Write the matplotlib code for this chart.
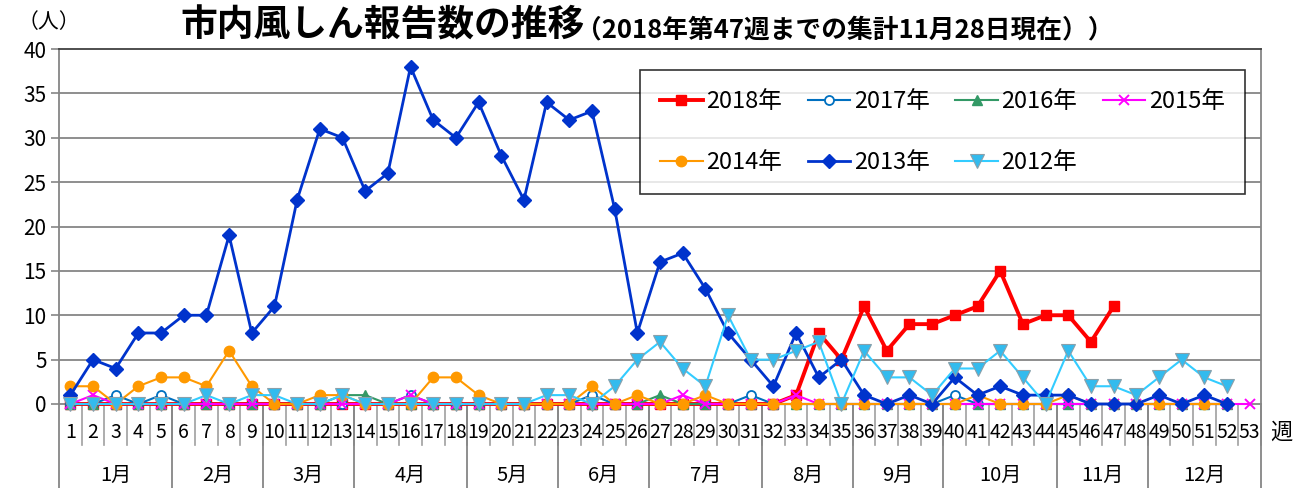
import matplotlib
matplotlib.use("Agg")
import matplotlib.pyplot as plt
import matplotlib.transforms as mtransforms

plt.rcParams['font.family'] = ['Noto Sans CJK JP', 'DejaVu Sans']

# ---------------- data ----------------
weeks = list(range(1, 54))
week_labels = [str(w) for w in weeks]
month_labels = ['1月', '2月', '3月', '4月', '5月', '6月', '7月', '8月', '9月', '10月', '11月', '12月']
month_week_counts = [5, 4, 4, 5, 4, 4, 5, 4, 4, 5, 4, 5]

y2018 = [0, 0, 0, 0, 0, 0, 0, 0, 0, 0, 0, 0, 0, 0, 0, 0, 0, 0, 0, 0,
         0, 0, 0, 0, 0, 0, 0, 0, 0, 0, 0, 0, 1, 8, 5, 11, 6, 9, 9, 10,
         11, 15, 9, 10, 10, 7, 11]
y2017 = [0, 0, 1, 0, 1, 0, 0, 0, 0, 0, 0, 0, 0, 0, 0, 1, 0, 0, 0, 0,
         0, 0, 0, 1, 0, 0, 0, 0, 0, 0, 1, 0, 0, 0, 0, 0, 0, 0, 0, 1,
         0, 0, 0, 0, 0, 0, 0, 0, 0, 0, 0, 0]
y2016 = [0, 0, 0, 0, 0, 0, 0, 0, 0, 0, 0, 0, 1, 1, 0, 0, 0, 0, 0, 0,
         0, 0, 0, 0, 0, 0, 1, 0, 0, 0, 0, 0, 0, 0, 0, 0, 0, 0, 0, 0,
         0, 0, 0, 0, 0, 0, 0, 0, 0, 0, 0, 0]
y2015 = [0, 1, 0, 0, 0, 0, 0, 0, 0, 0, 0, 0, 0, 0, 0, 1, 0, 0, 0, 0,
         0, 0, 0, 0, 0, 0, 0, 1, 0, 0, 0, 0, 1, 0, 0, 0, 0, 0, 0, 0,
         0, 0, 0, 0, 0, 0, 0, 0, 0, 0, 0, 0, 0]
y2014 = [2, 2, 0, 2, 3, 3, 2, 6, 2, 0, 0, 1, 1, 0, 0, 0, 3, 3, 1, 0,
         0, 0, 0, 2, 0, 1, 0, 0, 1, 0, 0, 0, 0, 0, 0, 0, 0, 0, 0, 0,
         1, 0, 0, 0, 1, 0, 0, 0, 0, 0, 0, 0]
y2013 = [1, 5, 4, 8, 8, 10, 10, 19, 8, 11, 23, 31, 30, 24, 26, 38, 32, 30, 34, 28,
         23, 34, 32, 33, 22, 8, 16, 17, 13, 8, 5, 2, 8, 3, 5, 1, 0, 1, 0, 3,
         1, 2, 1, 1, 1, 0, 0, 0, 1, 0, 1, 0]
y2012 = [0, 0, 0, 0, 0, 0, 1, 0, 1, 1, 0, 0, 1, 0, 0, 0, 0, 0, 0, 0,
         0, 1, 1, 0, 2, 5, 7, 4, 2, 10, 5, 5, 6, 7, 0, 6, 3, 3, 1, 4,
         4, 6, 3, 0, 6, 2, 2, 1, 3, 5, 3, 2]

series = [
    ('2018年', y2018, dict(color='#FF0000', lw=2.8, marker='s', ms=7.5, mfc='#FF0000', mec='#FF0000')),
    ('2017年', y2017, dict(color='#0070C0', lw=1.5, marker='o', ms=6.5, mfc='white', mec='#0070C0', mew=1.3)),
    ('2016年', y2016, dict(color='#339966', lw=1.5, marker='^', ms=7.5, mfc='#339966', mec='#339966')),
    ('2015年', y2015, dict(color='#FF00FF', lw=1.5, marker='x', ms=6.5, mec='#FF00FF', mew=1.4)),
    ('2014年', y2014, dict(color='#FF9900', lw=1.5, marker='o', ms=7.5, mfc='#FF9900', mec='#FF9900')),
    ('2013年', y2013, dict(color='#0033CC', lw=2.0, marker='D', ms=7.5, mfc='#0033CC', mec='#0033CC')),
    ('2012年', y2012, dict(color='#33CCFF', lw=1.5, marker='v', ms=10.5, mfc='#33BBEE', mec='#8AA0AA', mew=0.8)),
]

# ---------------- figure ----------------
W, H = 1303, 488
fig = plt.figure(figsize=(W / 100, H / 100), dpi=100)
L, R, T, B = 59, 1261, 49, 404
ax = fig.add_axes([L / W, 1 - B / H, (R - L) / W, (B - T) / H])

handles = {}
for i, (name, ys, st) in enumerate(series):
    xs = weeks[:len(ys)]
    h, = ax.plot(xs, ys, label=name, zorder=3 + i, clip_on=False, **st)
    handles[name] = h

ax.set_xlim(0.5, 53.5)
ax.set_ylim(0, 40)
ax.set_yticks(range(0, 41, 5))
ax.tick_params(axis='y', labelsize=15, length=6, width=1.2, color='#868686', pad=3)
ax.set_xticks([])
for yv in range(5, 40, 5):
    ax.axhline(yv, color='#868686', lw=1.3, zorder=1)
for s in ['left', 'right', 'bottom']:
    ax.spines[s].set_color('#868686')
    ax.spines[s].set_linewidth(1.3)
ax.spines['top'].set_color('#404040')
ax.spines['top'].set_linewidth(1.3)
ax.spines['bottom'].set_zorder(2)

# category axis (weeks + months)
trans = mtransforms.blended_transform_factory(ax.transData, ax.transAxes)
wk_depth = -41 / (B - T)
mo_depth = -84 / (B - T)
for w in weeks:
    ax.text(w, -28 / (B - T), week_labels[w - 1], transform=trans, ha='center', va='center',
            fontsize=14, clip_on=False)
    ax.plot([w + 0.5, w + 0.5], [0, wk_depth], transform=trans, color='#A0A0A0', lw=1.2, clip_on=False)
ax.text(53.5 + 0.9, -28 / (B - T), '週', transform=trans, ha='center', va='center', fontsize=16)

start = 0.5
ax.plot([start, start], [0, mo_depth], transform=trans, color='#868686', lw=1.3, clip_on=False)
for lab, n in zip(month_labels, month_week_counts):
    end = start + n
    ax.plot([end, end], [0, mo_depth], transform=trans, color='#868686', lw=1.3, clip_on=False)
    ax.text((start + end) / 2, -71 / (B - T), lab, transform=trans, ha='center', va='center',
            fontsize=14.5, clip_on=False)
    start = end

# legend (row-wise order)
order = ['2018年', '2014年', '2017年', '2013年', '2016年', '2012年', '2015年']
lg_x0, lg_x1, lg_top, lg_bot = 640, 1245, 70, 188
leg = ax.legend([handles[k] for k in order], order, ncol=4, loc='upper left',
                bbox_to_anchor=((lg_x0 - L) / (R - L), (B - lg_bot) / (B - T),
                                (lg_x1 - lg_x0) / (R - L), (lg_bot - lg_top) / (B - T)),
                mode='expand', fontsize=17, frameon=True, fancybox=False, edgecolor='black',
                handlelength=1.8, handletextpad=0.15, labelspacing=1.6, borderpad=0.85,
                columnspacing=0.5, borderaxespad=0)
leg.get_frame().set_linewidth(1.2)
leg.set_zorder(20)

# titles
fig.text(18 / W, 1 - 22 / H, '（人）', fontsize=15, va='center', ha='left')
t1 = fig.text(180 / W, 1 - 37 / H, '市内風しん報告数の推移', fontsize=26.5, weight='bold', va='baseline')
fig.canvas.draw()
bb = t1.get_window_extent()
fig.text((bb.x1 - 8) / W, 1 - 37 / H, '（2018年第47週までの集計11月28日現在））', fontsize=18.5,
         weight='bold', va='baseline')

fig.savefig('out.png', dpi=100)
